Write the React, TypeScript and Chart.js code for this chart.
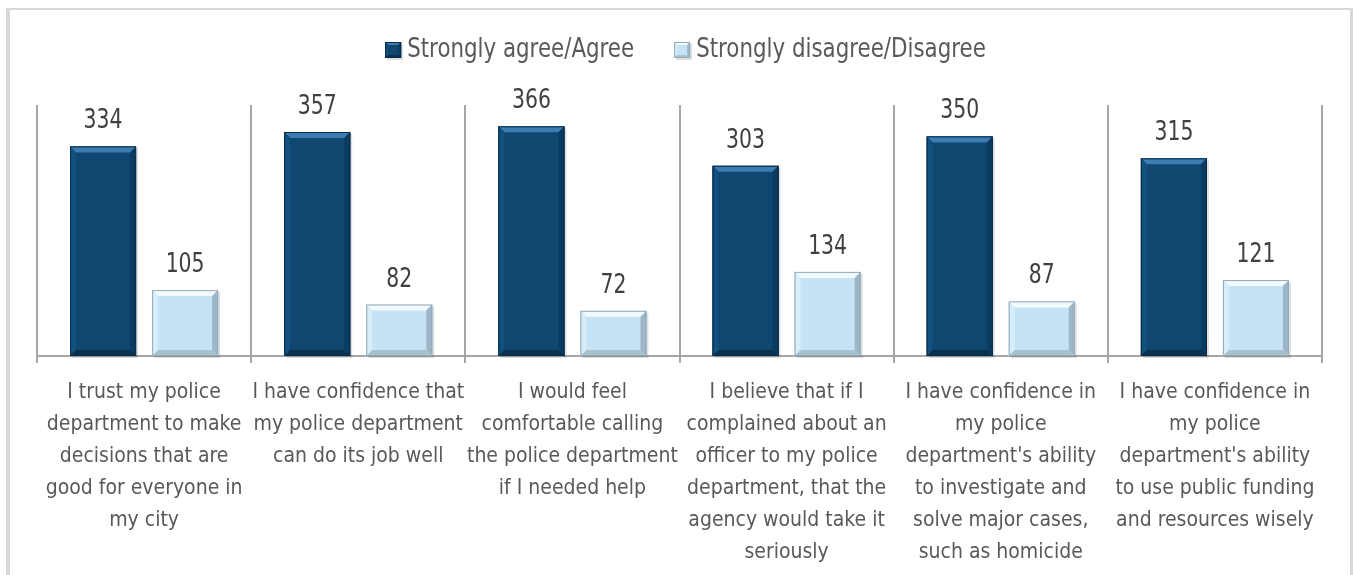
import { useEffect, useRef } from "react";
import { Chart, registerables } from "chart.js";

Chart.register(...registerables);

const categories: string[][] = [
  ["I trust my police", "department to make", "decisions that are", "good for everyone in", "my city"],
  ["I have confidence that", "my police department", "can do its job well"],
  ["I would feel", "comfortable calling", "the police department", "if I needed help"],
  ["I believe that if I", "complained about an", "officer to my police", "department, that the", "agency would take it", "seriously"],
  ["I have confidence in", "my police", "department's ability", "to investigate and", "solve major cases,", "such as homicide"],
  ["I have confidence in", "my police", "department's ability", "to use public funding", "and resources wisely"],
];
const seriesNames = ["Strongly agree/Agree", "Strongly disagree/Disagree"];
const agreeValues = [334, 357, 366, 303, 350, 315];
const disagreeValues = [105, 82, 72, 134, 87, 121];

const FONT = "'Liberation Sans Narrow', 'DejaVu Sans Condensed', sans-serif";

type Bevel = { base: string; top: string; left: string; right: string; bottom: string; edge: string };
const bevels: Bevel[] = [
  { base: "#0f4770", top: "#3d7cb0", left: "#12507d", right: "#0a3b60", bottom: "#08314f", edge: "#0a2c48" },
  { base: "#c5e3f5", top: "#f3fafe", left: "#d7edf9", right: "#9db7c6", bottom: "#a8c1cf", edge: "#93a9b6" },
];

function drawBevel(ctx: CanvasRenderingContext2D, x0: number, y0: number, x1: number, y1: number, b: number, c: Bevel) {
  const bb = Math.min(b, (x1 - x0) / 2, (y1 - y0) / 2);
  ctx.save();
  ctx.fillStyle = "rgba(0,0,0,0.12)";
  ctx.fillRect(x0 + 2, y0 + 2, x1 - x0, y1 - y0);
  ctx.fillStyle = c.base;
  ctx.fillRect(x0, y0, x1 - x0, y1 - y0);
  const poly = (pts: number[][], color: string) => {
    ctx.beginPath();
    ctx.moveTo(pts[0][0], pts[0][1]);
    for (let i = 1; i < pts.length; i++) ctx.lineTo(pts[i][0], pts[i][1]);
    ctx.closePath();
    ctx.fillStyle = color;
    ctx.fill();
  };
  poly([[x0, y0], [x1, y0], [x1 - bb, y0 + bb], [x0 + bb, y0 + bb]], c.top);
  poly([[x0, y0], [x0 + bb, y0 + bb], [x0 + bb, y1 - bb], [x0, y1]], c.left);
  poly([[x1, y0], [x1, y1], [x1 - bb, y1 - bb], [x1 - bb, y0 + bb]], c.right);
  poly([[x0, y1], [x0 + bb, y1 - bb], [x1 - bb, y1 - bb], [x1, y1]], c.bottom);
  ctx.strokeStyle = c.edge;
  ctx.lineWidth = 1;
  ctx.strokeRect(x0 + 0.5, y0 + 0.5, x1 - x0 - 1, y1 - y0 - 1);
  ctx.restore();
}

// draw text horizontally condensed (to mimic the narrow font of the original)
function narrowText(ctx: CanvasRenderingContext2D, text: string, x: number, y: number, sx: number) {
  ctx.save();
  ctx.translate(x, y);
  ctx.scale(sx, 1);
  ctx.fillText(text, 0, 0);
  ctx.restore();
}

const bevelPlugin = {
  id: "bevelBars",
  afterDatasetsDraw(chart: any) {
    const ctx = chart.ctx as CanvasRenderingContext2D;
    chart.data.datasets.forEach((ds: any, di: number) => {
      const meta = chart.getDatasetMeta(di);
      meta.data.forEach((el: any, i: number) => {
        const p = el.getProps(["x", "y", "base", "width"], true);
        const x0 = p.x - p.width / 2;
        const x1 = p.x + p.width / 2;
        drawBevel(ctx, x0, p.y, x1, p.base, 6, bevels[di]);
        ctx.save();
        ctx.font = `27px ${FONT}`;
        ctx.fillStyle = "#404040";
        ctx.textAlign = "center";
        ctx.textBaseline = "alphabetic";
        narrowText(ctx, String(ds.data[i]), p.x, p.y - 18, 0.84);
        ctx.restore();
      });
    });
  },
};

const legendPlugin = {
  id: "customLegend",
  afterDraw(chart: any) {
    const ctx = chart.ctx as CanvasRenderingContext2D;
    const box = 16;
    const gap = 6;
    const spacing = 40;
    const sx = 0.88;
    ctx.save();
    ctx.font = `27px ${FONT}`;
    const widths = chart.data.datasets.map((d: any) => ctx.measureText(d.label).width * sx);
    const total = widths.reduce((a: number, w: number) => a + box + gap + w, 0) + spacing * (widths.length - 1);
    const ca = chart.chartArea;
    let x = (ca.left + ca.right) / 2 + 6 - total / 2;
    const cy = 40;
    chart.data.datasets.forEach((d: any, i: number) => {
      drawBevel(ctx, x, cy - box / 2, x + box, cy + box / 2, 3, bevels[i]);
      ctx.fillStyle = "#595959";
      ctx.textAlign = "left";
      ctx.textBaseline = "alphabetic";
      narrowText(ctx, d.label, x + box + gap, cy + 7, sx);
      x += box + gap + widths[i] + spacing;
    });
    ctx.restore();
  },
};

export default function App() {
  const ref = useRef<HTMLCanvasElement>(null);
  useEffect(() => {
    if (!ref.current) return;
    const chart = new Chart(ref.current, {
      type: "bar",
      data: {
        labels: categories,
        datasets: [
          { label: seriesNames[0], data: agreeValues, backgroundColor: bevels[0].base },
          { label: seriesNames[1], data: disagreeValues, backgroundColor: bevels[1].base },
        ],
      },
      options: {
        animation: false,
        responsive: false,
        maintainAspectRatio: false,
        layout: { padding: { top: 95, left: 27, right: 28, bottom: 8 } },
        datasets: { bar: { categoryPercentage: 0.766, barPercentage: 0.805 } },
        plugins: { legend: { display: false }, tooltip: { enabled: false } },
        scales: {
          x: {
            offset: true,
            grid: { offset: true, color: "#a6a6a6", lineWidth: 2, tickLength: 7, drawOnChartArea: true },
            border: { display: true, color: "#a6a6a6", width: 2 },
            ticks: {
              color: "#595959",
              font: { family: FONT, size: 21, lineHeight: "32px" },
              padding: 14,
              maxRotation: 0,
              autoSkip: false,
            },
          },
          y: { display: false, min: 0, max: 400 },
        },
      },
      plugins: [bevelPlugin, legendPlugin],
    });
    return () => chart.destroy();
  }, []);
  return (
    <div
      style={{
        position: "absolute",
        left: 6,
        top: 8,
        width: 1347,
        height: 567,
        boxSizing: "border-box",
        borderLeft: "4px solid #d9d9d9",
        borderTop: "2px solid #d9d9d9",
        borderRight: "3px solid #d9d9d9",
        background: "#fff",
        overflow: "hidden",
      }}
    >
      <canvas ref={ref} width={1340} height={581} style={{ display: "block", width: 1340, height: 581 }} />
    </div>
  );
}
